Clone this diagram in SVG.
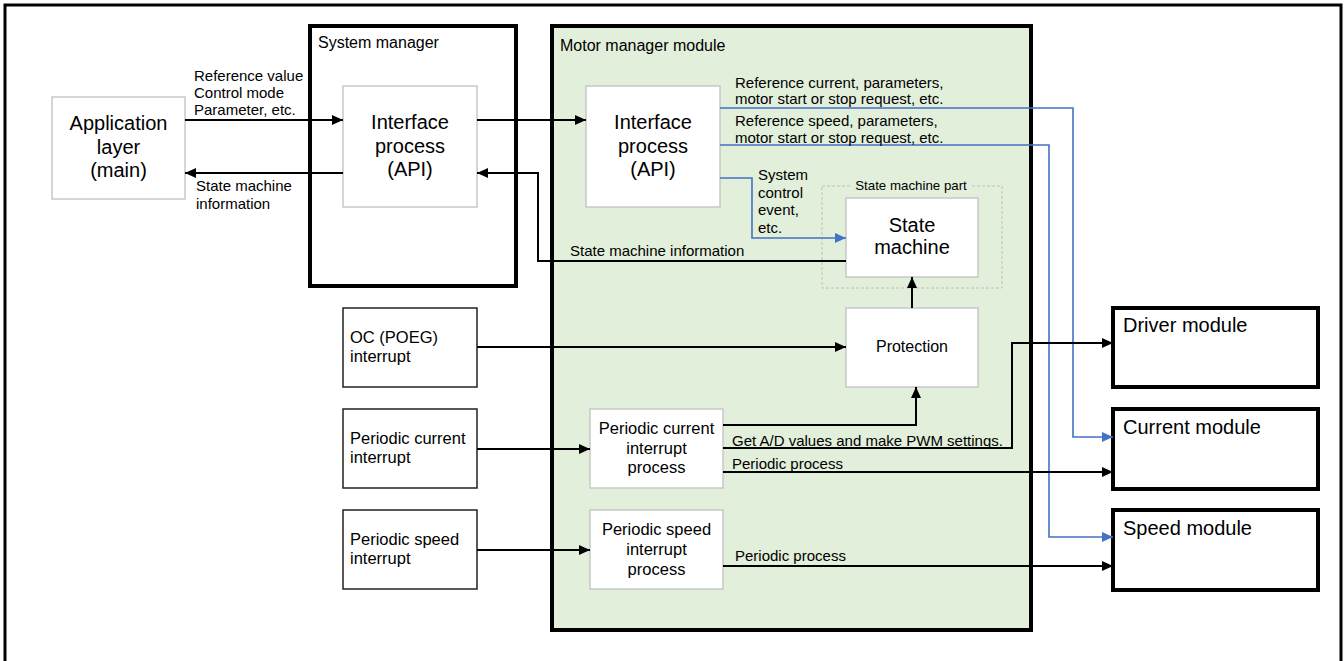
<svg xmlns="http://www.w3.org/2000/svg" width="1344" height="661" viewBox="0 0 1344 661">
<defs>
<marker id="ah" markerUnits="userSpaceOnUse" markerWidth="11" markerHeight="10" refX="11" refY="5" orient="auto"><path d="M0,0 L11,5 L0,10 z" fill="#000"/></marker>
<marker id="ahb" markerUnits="userSpaceOnUse" markerWidth="11" markerHeight="10" refX="11" refY="5" orient="auto"><path d="M0,0 L11,5 L0,10 z" fill="#4472C4"/></marker>
<style>
text{font-family:"Liberation Sans",Arial,sans-serif;fill:#000}
.big{font-size:20px;text-anchor:middle}
.mid{font-size:16.5px}
.mc{font-size:16.5px;text-anchor:middle}
.lbl{font-size:15px}
.title{font-size:16px}
.mod{font-size:20px}
.gbox{fill:#fff;stroke:#c8c8c8;stroke-width:1.5}
.thick{fill:none;stroke:#000;stroke-width:4}
.ibox{fill:#fff;stroke:#222;stroke-width:1.5}
.c{fill:none;stroke:#000;stroke-width:2}
.cb{fill:none;stroke:#4472C4;stroke-width:1.6}
</style>
</defs>
<rect x="5" y="5" width="1336" height="700" fill="#fff" stroke="#000" stroke-width="3"/>

<g id="system-manager">
<rect x="310" y="26" width="206" height="260" class="thick"/>
<text x="318" y="48" class="title">System manager</text>
</g>

<g id="motor-manager">
<rect x="552" y="26" width="479" height="604" fill="#E2EFDA" stroke="#000" stroke-width="4"/>
<text x="560" y="51" class="title">Motor manager module</text>
</g>

<g id="app-layer">
<rect x="52" y="97" width="133" height="102" class="gbox"/>
<text class="big" x="118.5" y="130">Application</text>
<text class="big" x="118.5" y="154">layer</text>
<text class="big" x="118.5" y="177">(main)</text>
</g>

<g id="sm-interface">
<rect x="343" y="86" width="134" height="121" class="gbox"/>
<text class="big" x="410" y="129">Interface</text>
<text class="big" x="410" y="153">process</text>
<text class="big" x="410" y="176">(API)</text>
</g>

<g id="mm-interface">
<rect x="586" y="86" width="134" height="121" class="gbox"/>
<text class="big" x="653" y="129">Interface</text>
<text class="big" x="653" y="153">process</text>
<text class="big" x="653" y="176">(API)</text>
</g>

<g id="state-machine-part">
<rect x="822" y="186" width="180" height="102" fill="none" stroke="#c0c0c0" stroke-width="1" stroke-dasharray="3,2"/>
<rect x="851" y="180" width="120" height="12" fill="#E2EFDA"/>
<text x="911" y="190" style="font-size:13.3px;text-anchor:middle">State machine part</text>
</g>

<g id="state-machine">
<rect x="846" y="198" width="132" height="79" class="gbox"/>
<text class="big" x="912" y="232">State</text>
<text class="big" x="912" y="254">machine</text>
</g>

<g id="protection">
<rect x="846" y="308" width="132" height="79" class="gbox"/>
<text x="912" y="352" style="font-size:16px;text-anchor:middle">Protection</text>
</g>

<g id="oc-interrupt">
<rect x="343" y="308" width="134" height="79" class="ibox"/>
<text class="mid" x="350" y="343">OC (POEG)</text>
<text class="mid" x="350" y="362">interrupt</text>
</g>

<g id="periodic-current-interrupt">
<rect x="343" y="409" width="134" height="79" class="ibox"/>
<text class="mid" x="350" y="444">Periodic current</text>
<text class="mid" x="350" y="463">interrupt</text>
</g>

<g id="periodic-speed-interrupt">
<rect x="343" y="510" width="134" height="79" class="ibox"/>
<text class="mid" x="350" y="545">Periodic speed</text>
<text class="mid" x="350" y="564">interrupt</text>
</g>

<g id="periodic-current-process">
<rect x="590" y="409" width="133" height="79" class="gbox"/>
<text class="mc" x="656.5" y="434">Periodic current</text>
<text class="mc" x="656.5" y="454">interrupt</text>
<text class="mc" x="656.5" y="473">process</text>
</g>

<g id="periodic-speed-process">
<rect x="590" y="510" width="133" height="79" class="gbox"/>
<text class="mc" x="656.5" y="535">Periodic speed</text>
<text class="mc" x="656.5" y="555">interrupt</text>
<text class="mc" x="656.5" y="575">process</text>
</g>

<g id="driver-module">
<rect x="1113" y="308" width="205" height="79" fill="#fff" stroke="#000" stroke-width="4"/>
<text class="mod" x="1123" y="332">Driver module</text>
</g>

<g id="current-module">
<rect x="1113" y="409" width="205" height="80" fill="#fff" stroke="#000" stroke-width="4"/>
<text class="mod" x="1123" y="434">Current module</text>
</g>

<g id="speed-module">
<rect x="1113" y="510" width="205" height="80" fill="#fff" stroke="#000" stroke-width="4"/>
<text class="mod" x="1123" y="535">Speed module</text>
</g>

<g id="connectors">
<path class="c" d="M185,120 H343" marker-end="url(#ah)"/>
<path class="c" d="M343,173 H185" marker-end="url(#ah)"/>
<path class="c" d="M477,120 H586" marker-end="url(#ah)"/>
<path class="c" d="M846,261 H538 V173 H477" marker-end="url(#ah)"/>
<path class="cb" d="M720,108 H1073 V437 H1113" marker-end="url(#ahb)"/>
<path class="cb" d="M720,145 H1049 V537 H1113" marker-end="url(#ahb)"/>
<path class="cb" d="M720,178 H752 V238 H846" marker-end="url(#ahb)"/>
<path class="c" d="M912,308 V277" marker-end="url(#ah)"/>
<path class="c" d="M477,347 H846" marker-end="url(#ah)"/>
<path class="c" d="M477,449 H590" marker-end="url(#ah)"/>
<path class="c" d="M477,550 H590" marker-end="url(#ah)"/>
<path class="c" d="M723,425 H916 V387" marker-end="url(#ah)"/>
<path class="c" d="M723,448 H1012 V343 H1113" marker-end="url(#ah)"/>
<path class="c" d="M723,472 H1113" marker-end="url(#ah)"/>
<path class="c" d="M723,566 H1113" marker-end="url(#ah)"/>
</g>

<g id="labels">
<text class="lbl" x="194" y="81">Reference value</text>
<text class="lbl" x="194" y="98">Control mode</text>
<text class="lbl" x="194" y="115">Parameter, etc.</text>
<text class="lbl" x="196" y="191">State machine</text>
<text class="lbl" x="196" y="209">information</text>
<text class="lbl" x="735" y="88">Reference current, parameters,</text>
<text class="lbl" x="735" y="104">motor start or stop request, etc.</text>
<text class="lbl" x="735" y="126">Reference speed, parameters,</text>
<text class="lbl" x="735" y="143">motor start or stop request, etc.</text>
<text class="lbl" x="758" y="180">System</text>
<text class="lbl" x="758" y="198">control</text>
<text class="lbl" x="758" y="215">event,</text>
<text class="lbl" x="758" y="233">etc.</text>
<text class="lbl" x="570" y="256">State machine information</text>
<text class="lbl" x="732" y="446">Get A/D values and make PWM settings.</text>
<text class="lbl" x="732" y="469">Periodic process</text>
<text class="lbl" x="735" y="561">Periodic process</text>
</g>
</svg>
